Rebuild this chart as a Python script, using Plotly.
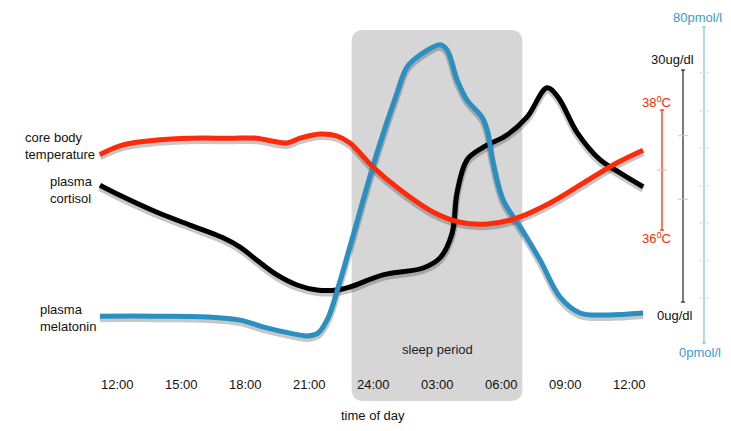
import plotly.graph_objects as go

# page is 731x431, the figure div sits 8px in from the top-left (body margin)
OX, OY = 8, 8
W, H = 715, 415
FONT = "Helvetica, Liberation Sans, Arial, sans-serif"

# hours after 12:00 (noon) of day 1
temp_hours = [-0.8, 0.28, 1.875, 3.42, 5.3, 6.56, 7.31, 7.97, 8.58, 9.52, 10.3, 10.92, 12.0, 13.27,
              14.81, 16.08, 17.35, 18.75, 20.3, 21.85, 23.44, 24.66]
temp_c = [37.26, 37.42, 37.5, 37.53, 37.53, 37.53, 37.48, 37.45, 37.53, 37.6, 37.57, 37.45, 37.05, 36.67,
          36.3, 36.13, 36.1, 36.2, 36.45, 36.78, 37.12, 37.33]

cort_hours = [-0.8, 0.28, 1.875, 3.42, 4.97, 5.77, 6.56, 7.5, 8.44, 9.375, 10.31, 10.92, 12.47, 14.35,
              15.14, 15.71, 15.94, 16.41, 17.16, 18.28, 19.22, 20.16, 20.67, 21.57, 22.64, 23.58, 24.66]
cort_ug = [15.1, 13.6, 11.6, 9.95, 8.3, 7.1, 5.4, 3.5, 2.2, 1.55, 1.55, 1.94, 3.5, 4.4,
           5.7, 8.9, 14.1, 18.4, 20.0, 21.6, 23.9, 27.7, 26.5, 21.9, 18.4, 16.7, 14.9]

mel_hours = [-0.8, 1.875, 4.22, 5.77, 6.84, 8.11, 8.91, 9.42, 9.89, 10.36, 10.92, 12.19, 13.13, 13.6,
             14.2, 15.14, 15.47, 15.94, 16.41, 17.11, 17.35, 17.63, 18.1, 18.9, 19.83, 20.77, 21.7,
             22.97, 24.66]
mel_pmol = [6.8, 6.8, 6.6, 5.8, 4.1, 2.5, 1.8, 2.5, 6.3, 13.9, 24.3, 48.1, 63.3, 69.9,
            72.9, 75.5, 74.2, 66.6, 61.5, 57.2, 53.9, 45.6, 36.2, 29.4, 21.0, 11.6, 7.6,
            7.1, 7.6]

tick_hours = [0, 3, 6, 9, 12, 15, 18, 21, 24]
tick_labels = ["12:00", "15:00", "18:00", "21:00", "24:00", "03:00", "06:00", "09:00", "12:00"]

sleep_start, sleep_end = 11, 19  # 23:00 -> 07:00

temp_scale = [36, 38]
cort_scale = [0, 30]
mel_scale = [0, 80]
temp_minor = [37]
cort_minor = [13.3, 21.5]
mel_minor = [11.4, 20.8, 30.4, 39.8, 49.4, 58.7, 68.4]

RED = "#ff2a0a"
BLUE = "#2a8fc1"
BLACK = "#000000"


def px_x(p):
    return (p - OX) / W


def px_y(p):
    return 1 - (p - OY) / H


def xrange_for(v0, p0, v1, p1):
    per = (v1 - v0) / (p1 - p0)
    p0 -= OX
    return [v0 - p0 * per, v0 + (W - p0) * per]


def yrange_for(v0, p0, v1, p1, shift=0):
    per = (v1 - v0) / (p1 - p0)
    p0 = p0 - OY + shift
    return [v0 + (H - p0) * per, v0 - p0 * per]


xr = xrange_for(0, 117, 24, 629)
hpp = (xr[1] - xr[0]) / W
SH = 2.5  # shadow drop, px
ranges = {
    "temp": yrange_for(36, 230, 38, 110),
    "cort": yrange_for(0, 302, 30, 70),
    "mel": yrange_for(0, 343, 80, 27),
}
shadow_ranges = {
    "temp": yrange_for(36, 230, 38, 110, SH),
    "cort": yrange_for(0, 302, 30, 70, SH),
    "mel": yrange_for(0, 343, 80, 27, SH),
}

fig = go.Figure()

# overlay order decides stacking: shadows on y..y3, lines on y4..y6
series = [
    ("temp", temp_hours, temp_c, RED, "y", "y6"),
    ("cort", cort_hours, cort_ug, BLACK, "y2", "y4"),
    ("mel", mel_hours, mel_pmol, BLUE, "y3", "y5"),
]
for key, xs, ys, col, sa, ya in series:
    fig.add_trace(go.Scatter(x=xs, y=ys, yaxis=sa, mode="lines",
                             line=dict(color="rgba(0,0,0,0.22)", width=7, shape="spline", smoothing=1),
                             hoverinfo="skip", showlegend=False))
    fig.add_trace(go.Scatter(x=xs, y=ys, yaxis=ya, mode="lines",
                             line=dict(color=col, width=5, shape="spline", smoothing=1),
                             showlegend=False))

ax = dict(visible=False, fixedrange=True)
fig.update_layout(
    width=W, height=H, margin=dict(l=0, r=0, t=0, b=0),
    paper_bgcolor="white", plot_bgcolor="rgba(0,0,0,0)",
    font=dict(family=FONT, size=13, color="#222222"),
    xaxis=dict(range=xr, **ax),
    yaxis=dict(range=shadow_ranges["temp"], **ax),
    yaxis2=dict(range=shadow_ranges["cort"], overlaying="y", **ax),
    yaxis3=dict(range=shadow_ranges["mel"], overlaying="y", **ax),
    yaxis4=dict(range=ranges["cort"], overlaying="y", **ax),
    yaxis5=dict(range=ranges["mel"], overlaying="y", **ax),
    yaxis6=dict(range=ranges["temp"], overlaying="y", **ax),
)

# sleep period box with rounded corners
x0, x1 = sleep_start, sleep_end
y0, y1 = px_y(401), px_y(30)
rx, ry = 12 * hpp, 12 / H
path = (f"M {x0 + rx},{y1} L {x1 - rx},{y1} Q {x1},{y1} {x1},{y1 - ry} "
        f"L {x1},{y0 + ry} Q {x1},{y0} {x1 - rx},{y0} L {x0 + rx},{y0} "
        f"Q {x0},{y0} {x0},{y0 + ry} L {x0},{y1 - ry} Q {x0},{y1} {x0 + rx},{y1} Z")
fig.add_shape(type="path", path=path, xref="x", yref="paper", fillcolor="#d6d6d6",
              line_width=0, layer="below")


def note(txt, x, y, xref="paper", color="#111111", xanchor="center"):
    fig.add_annotation(text=txt, x=x, y=y, xref=xref, yref="paper", xanchor=xanchor,
                       yanchor="middle", align="left", showarrow=False,
                       font=dict(size=13, color=color))


note("sleep period", (x0 + x1) / 2, px_y(349), xref="x", color="#222222")
for h, lab in zip(tick_hours, tick_labels):
    note(lab, h, px_y(384), xref="x")
note("time of day", 12, px_y(415), xref="x")

# left series labels
for txt, px, py in [("core body<br>temperature", 23, 146),
                    ("plasma<br>cortisol", 48, 190),
                    ("plasma<br>melatonin", 38, 318)]:
    note(txt, px_x(px), px_y(py), xanchor="left")

# right-hand scale bars
bars = [(662, temp_scale, temp_minor, "y6", RED, "#ffb0a8"),
        (683, cort_scale, cort_minor, "y4", "#333333", "#c8c8c8"),
        (704, mel_scale, mel_minor, "y5", "#8cc4e0", "#cfe5f0")]
for px, sc, minor, ya, col, mcol in bars:
    xp = px_x(px)
    fig.add_shape(type="line", x0=xp, x1=xp, y0=sc[0], y1=sc[1], xref="paper", yref=ya,
                  line=dict(color=col, width=1.3))
    for v in sc:
        fig.add_shape(type="line", x0=xp - 2 / W, x1=xp + 2 / W, y0=v, y1=v, xref="paper", yref=ya,
                      line=dict(color=col, width=1.3))
    for v in minor:
        fig.add_shape(type="line", x0=xp - 5 / W, x1=xp + 5 / W, y0=v, y1=v, xref="paper", yref=ya,
                      line=dict(color=mcol, width=1))

labels = [("80pmol/l", 697, 17, "#3a9ad0"), ("30ug/dl", 672, 60, "#111111"),
          ("38<sup>0</sup>C", 656, 102, RED), ("36<sup>0</sup>C", 656, 238, RED),
          ("0ug/dl", 675, 315, "#111111"), ("0pmol/l", 700, 352, "#3a9ad0")]
for txt, px, py, col in labels:
    note(txt, px_x(px), px_y(py), color=col)

fig.write_html("out.html")
